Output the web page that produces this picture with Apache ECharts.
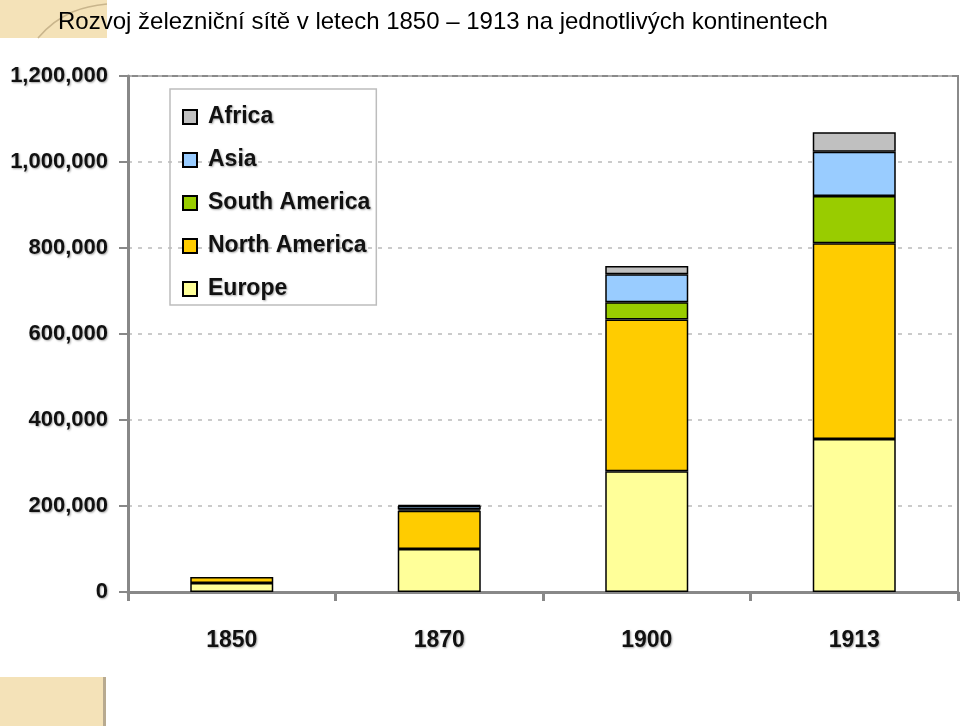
<!DOCTYPE html>
<html>
<head>
<meta charset="utf-8">
<script src="https://cdn.jsdelivr.net/npm/echarts@6/dist/echarts.min.js"></script>
<style>html,body{margin:0;padding:0;background:#fff;}#c{width:960px;height:726px;}</style>
</head>
<body>
<div id="c"></div>
<script>
const years = ['1850', '1870', '1900', '1913'];
const europe = [21000, 100000, 281000, 356000];
const northAmerica = [14000, 89000, 353000, 455000];
const southAmerica = [0, 3000, 40000, 110000];
const asia = [0, 8000, 65000, 103000];
const africa = [0, 2000, 19000, 45000];
const yTicks = [0, 200000, 400000, 600000, 800000, 1000000, 1200000];

const chart = echarts.init(document.getElementById('c'));
const shadow = {textShadowColor: 'rgba(0,0,0,0.35)', textShadowBlur: 2, textShadowOffsetX: 1, textShadowOffsetY: 1};
const fontFam = 'Liberation Sans, Arial, sans-serif';
function mk(name, data, color) {
  return {
    name: name, type: 'bar', stack: 'total', barWidth: '40%',
    data: data.map(v => v === 0 ? '-' : v),
    itemStyle: {color: color, borderColor: '#000', borderWidth: 1.5},
    emphasis: {disabled: true}
  };
}
chart.setOption({
  animation: false,
  graphic: [
    {type: 'rect', left: 0, top: 0, shape: {width: 107, height: 38}, style: {fill: '#F4E2B8'}},
    {type: 'bezierCurve', shape: {x1: 38, y1: 38, x2: 107, y2: 4, cpx1: 60, cpy1: 12, cpx2: 85, cpy2: 6}, style: {stroke: '#C9B58C', lineWidth: 1.5, fill: null}},
    {type: 'rect', left: 0, top: 677, shape: {width: 103, height: 49}, style: {fill: '#F4E2B8'}},
    {type: 'rect', left: 103, top: 677, shape: {width: 3, height: 49}, style: {fill: '#B8AA90'}}
  ],
  title: {
    text: 'Rozvoj železniční sítě v letech 1850 – 1913 na jednotlivých kontinentech',
    left: 53, top: 5,
    textStyle: {fontFamily: fontFam, fontWeight: 'normal', fontSize: 24, color: '#000'}
  },
  legend: {
    data: ['Africa', 'Asia', 'South America', 'North America', 'Europe'],
    orient: 'vertical', left: 170, top: 89, width: 180,
    padding: [16, 6, 4, 12],
    itemWidth: 14, itemHeight: 14, itemGap: 19,
    borderColor: '#BDBDBD', borderWidth: 1.5,
    icon: 'rect',
    selectedMode: false,
    textStyle: Object.assign({fontFamily: fontFam, fontWeight: 'bold', fontSize: 23, lineHeight: 24, color: '#111', padding: [0, 0, 0, 6]}, shadow)
  },
  grid: {left: 128, right: 2, top: 76, bottom: 134, show: true, borderColor: '#8A8A8A', borderWidth: 2, backgroundColor: 'transparent'},
  xAxis: {
    type: 'category', data: years,
    axisLine: {lineStyle: {color: '#888', width: 3}},
    axisTick: {show: true, length: 9, lineStyle: {color: '#888', width: 3}},
    axisLabel: Object.assign({margin: 37, fontFamily: fontFam, fontWeight: 'bold', fontSize: 23, color: '#111'}, shadow)
  },
  yAxis: {
    type: 'value', min: 0, max: 1200000, interval: 200000,
    axisLine: {show: true, lineStyle: {color: '#888', width: 3}},
    axisTick: {show: true, length: 9, lineStyle: {color: '#888', width: 2}},
    splitLine: {show: true, lineStyle: {color: '#BBB', type: [4, 6], width: 1.5}},
    axisLabel: Object.assign({margin: 20, fontFamily: fontFam, fontWeight: 'bold', fontSize: 22, color: '#111',
      formatter: v => yTicks.includes(v) ? v.toLocaleString('en-US') : ''}, shadow)
  },
  series: [
    mk('Europe', europe, '#FFFF99'),
    mk('North America', northAmerica, '#FFCC00'),
    mk('South America', southAmerica, '#99CC00'),
    mk('Asia', asia, '#99CCFF'),
    mk('Africa', africa, '#C0C0C0')
  ]
});
</script>
</body>
</html>
